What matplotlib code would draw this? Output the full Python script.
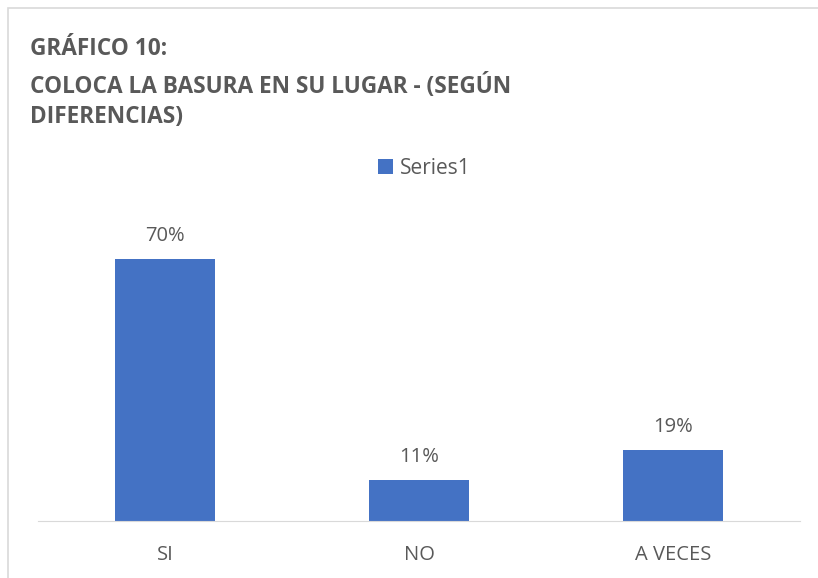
import matplotlib.pyplot as plt
from matplotlib.patches import Rectangle

# datos del gráfico
categorias = ["SI", "NO", "A VECES"]
porcentajes = [70, 11, 19]
etiquetas = ["70%", "11%", "19%"]

AZUL = "#4472C4"
GRIS_TEXTO = "#595959"

plt.rcParams['font.family'] = ['Open Sans', 'DejaVu Sans']

fig = plt.figure(figsize=(8.18, 5.78), dpi=100)

# marco del gráfico (borde gris claro, cortado a la derecha/abajo)
fig.patches.append(Rectangle((8 / 818, -0.1), 1.2, 1 - 8 / 578 + 0.1,
                             transform=fig.transFigure, fill=False,
                             edgecolor="#d9d9d9", linewidth=1.2))

ax = fig.add_axes([38 / 818, 57 / 578, 762 / 818, 300 / 578])
x = range(len(categorias))
barras = ax.bar(x, porcentajes, width=0.394, color=AZUL, label="Series1")

for xi, v, txt in zip(x, porcentajes, etiquetas):
    ax.annotate(txt, (xi, v), xytext=(0, 9), textcoords="offset points",
                ha="center", va="bottom", fontsize=14.5, color=GRIS_TEXTO)

ax.set_xlim(-0.5, 2.5)
ax.set_ylim(0, 80)
ax.set_xticks(list(x))
ax.set_xticklabels(categorias, fontsize=14.5, color=GRIS_TEXTO)
ax.tick_params(axis="x", length=0, pad=17)
ax.set_yticks([])
for lado in ["top", "right", "left"]:
    ax.spines[lado].set_visible(False)
ax.spines["bottom"].set_color("#d9d9d9")

fig.text(30 / 818, 1 - 49 / 578, "GRÁFICO 10:", fontsize=16.3, fontweight="bold",
         color=GRIS_TEXTO, va="center")
fig.text(30 / 818, 1 - 87 / 578, "COLOCA LA BASURA EN SU LUGAR - (SEGÚN",
         fontsize=16.3, fontweight="bold", color=GRIS_TEXTO, va="center")
fig.text(30 / 818, 1 - 117 / 578, "DIFERENCIAS)", fontsize=16.3, fontweight="bold",
         color=GRIS_TEXTO, va="center")

fig.legend(handles=[barras], labels=["Series1"], loc="center",
           bbox_to_anchor=(424 / 818, 1 - 168 / 578), frameon=False,
           fontsize=15, handlelength=0.75, handleheight=0.75, handletextpad=0.3,
           labelcolor=GRIS_TEXTO)

fig.savefig("out.png", dpi=100)
